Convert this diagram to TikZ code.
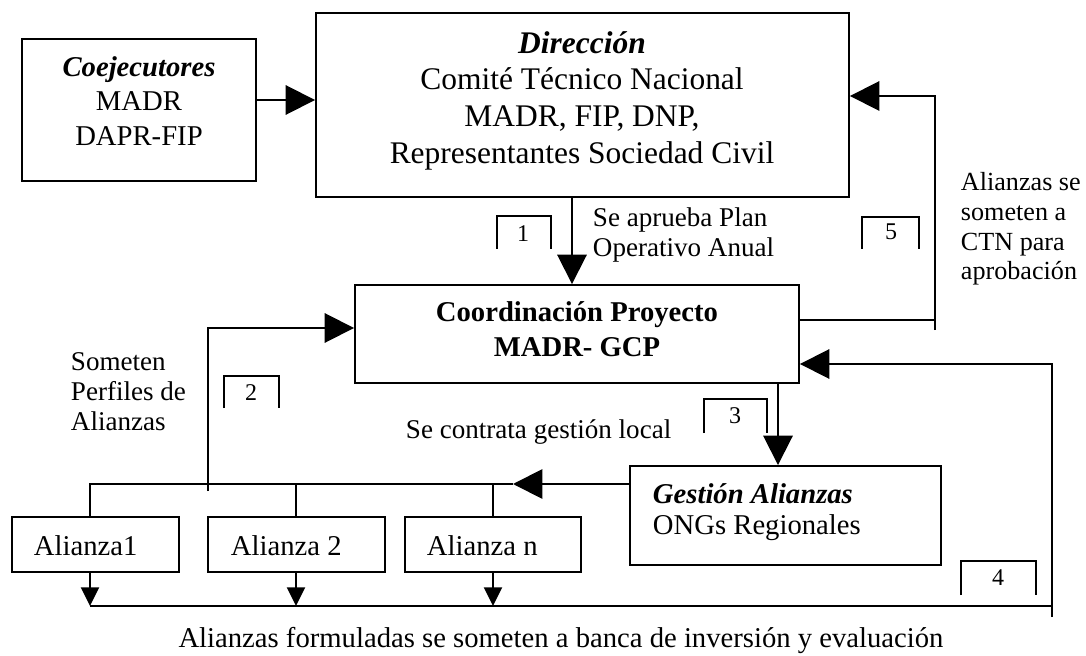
\documentclass[tikz,border=0pt]{standalone}
\usepackage{fontspec}
\setmainfont{Liberation Serif}
\usetikzlibrary{arrows.meta,fit}
\begin{document}
\begin{tikzpicture}[x=0.75pt,y=-0.75pt, line width=1.45pt,
  boxnode/.style={draw, rectangle, inner sep=0pt},
  big/.style={-{Triangle[length=22pt,width=22pt]}},
  small/.style={-{Triangle[length=14pt,width=13.5pt]}},
  lbl/.style={font=\fontsize{20.3}{22.5}\selectfont, inner sep=0pt, align=left},
  num/.style={font=\fontsize{18}{20}\selectfont, inner sep=0pt},
  btxt/.style={font=\fontsize{21.5}{26}\selectfont, inner sep=0pt}
]
\useasboundingbox (0,0) rectangle (1086,656);

% boxes
\node[boxnode, fit={(22,39) (256,181)}] (coe) {};
\node[boxnode, fit={(316,13) (849,197)}] (dir) {};
\node[boxnode, fit={(355,285) (799,383)}] (coor) {};
\node[boxnode, fit={(630,466) (941,565)}] (ges) {};
\node[boxnode, fit={(12,517) (179,572)}] (a1) {};
\node[boxnode, fit={(208,517) (385,572)}] (a2) {};
\node[boxnode, fit={(405,517) (581,572)}] (an) {};

% box texts
\node[btxt, align=center, font=\fontsize{21.5}{26}\selectfont] (coetxt) at (139,101)
  {\textbf{\textit{Coejecutores}}\\MADR\\DAPR-FIP};
\node[inner sep=0pt, align=center, font=\fontsize{23.6}{27.5}\selectfont] (dirtxt) at (582,100.5)
  {\textbf{\textit{Dirección}}\\Comité Técnico Nacional\\MADR, FIP, DNP,\\Representantes Sociedad Civil};
\node[btxt, align=center, font=\bfseries\fontsize{21.5}{26}\selectfont] (coortxt) at (577,329.5)
  {Coordinación Proyecto\\MADR- GCP};
\node[btxt, align=left, anchor=west, font=\fontsize{21.5}{23.3}\selectfont] (gestxt) at (652,512.5)
  {\textbf{\textit{Gestión Alianzas}}\\ONGs Regionales};
\node[btxt, anchor=base west] (a1txt) at (33,555) {Alianza1};
\node[btxt, anchor=base west] (a2txt) at (230,555) {Alianza 2};
\node[btxt, anchor=base west] (antxt) at (426,555) {Alianza n};

% labels
\node[lbl, anchor=west] (l1) at (592,234.5) {Se aprueba Plan\\Operativo Anual};
\node[lbl, anchor=west, font=\fontsize{19.6}{22.3}\selectfont] (l5) at (960,229) {Alianzas se\\someten a\\CTN para\\aprobación};
\node[lbl, anchor=west] (l2) at (70,392) {Someten\\Perfiles de\\Alianzas};
\node[lbl, anchor=base west] (l3) at (405,438) {Se contrata gestión local};
\node[btxt, anchor=base] (l4) at (561,647) {Alianzas formuladas se someten a banca de inversión y evaluación};

% numbered brackets
\draw (497,249) |- (551,216) -- (551,249);
\node[num, anchor=base] (n1) at (523,242) {1};
\draw (862,249) |- (919,217) -- (919,249);
\node[num, anchor=base] (n5) at (891,240) {5};
\draw (224,408) |- (279,376) -- (279,408);
\node[num, anchor=base] (n2) at (251,400) {2};
\draw (704,433) |- (767,399) -- (767,433);
\node[num, anchor=base] (n3) at (735,423) {3};
\draw (961,595) |- (1036,561) -- (1036,595);
\node[num, anchor=base] (n4) at (998,585) {4};

% free-end coordinates
\coordinate (r5top) at (935,320);
\coordinate (r5bot) at (935,330);
\coordinate (r4bot) at (1052,617);
\coordinate (busR) at (1052,606);
\coordinate (busL) at (90,606);
\coordinate (topbus) at (513,484);
\coordinate (r2bot) at (208,491);

% connectors
\draw[big] (coe.east |- 0,100) -- (dir.west |- 0,100);
\draw[big] (dir.south -| 572,0) -- (coor.north -| 572,0);
\draw (coor.east |- r5top) -- (r5top);
\draw[big] (r5bot) |- (dir.east |- 0,96);
\draw[big] (r4bot) |- (coor.east |- 0,364);
\draw (busL) -- (busR);
\draw[small] (a1.south -| busL) -- (busL);
\draw[small] (a2.south -| 296,0) -- (296,606);
\draw[small] (an.south -| 493,0) -- (493,606);
\draw[big] (ges.west |- topbus) -- (topbus);
\draw (a1.north -| 90,0) |- (topbus);
\draw (a2.north -| 296,0) -- (296,484);
\draw (an.north -| 493,0) -- (493,484);
\draw[big] (r2bot) |- (coor.west |- 0,328);
\draw[big] (coor.south -| 778,0) -- (ges.north -| 778,0);
\end{tikzpicture}
\end{document}
